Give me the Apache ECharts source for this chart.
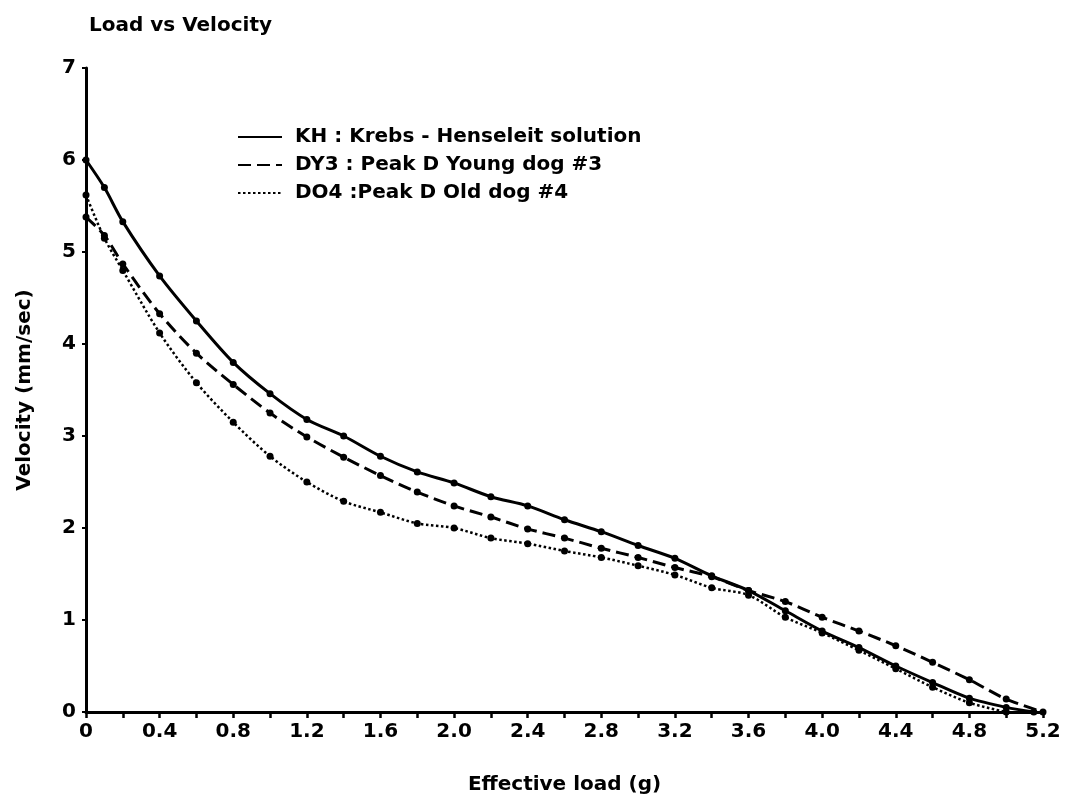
<!DOCTYPE html>
<html>
<head>
<meta charset="utf-8">
<script src="https://cdn.jsdelivr.net/npm/echarts@6/dist/echarts.min.js"></script>
<style>html,body{margin:0;padding:0;background:#fff}#c{width:1076px;height:800px}</style>
</head>
<body>
<div id="c"></div>
<script>
const titleText = 'Load vs Velocity';
const xName = 'Effective load (g)';
const yName = 'Velocity (mm/sec)';
const seriesNames = ['KH : Krebs - Henseleit solution', 'DY3 : Peak D Young dog #3', 'DO4 :Peak D Old dog #4'];

const khLoad = [0, 0.1, 0.2, 0.4, 0.6, 0.8, 1.0, 1.2, 1.4, 1.6, 1.8, 2.0, 2.2, 2.4, 2.6, 2.8, 3.0, 3.2, 3.4, 3.6, 3.8, 4.0, 4.2, 4.4, 4.6, 4.8, 5.0, 5.15];
const khVel  = [6.00, 5.70, 5.33, 4.74, 4.25, 3.80, 3.46, 3.18, 3.00, 2.78, 2.61, 2.49, 2.34, 2.24, 2.09, 1.96, 1.81, 1.67, 1.48, 1.32, 1.10, 0.88, 0.70, 0.50, 0.32, 0.15, 0.05, 0];

const dyLoad = [0, 0.1, 0.2, 0.4, 0.6, 0.8, 1.0, 1.2, 1.4, 1.6, 1.8, 2.0, 2.2, 2.4, 2.6, 2.8, 3.0, 3.2, 3.4, 3.6, 3.8, 4.0, 4.2, 4.4, 4.6, 4.8, 5.0, 5.2];
const dyVel  = [5.38, 5.18, 4.87, 4.33, 3.90, 3.56, 3.25, 2.99, 2.77, 2.57, 2.39, 2.24, 2.12, 1.99, 1.89, 1.78, 1.68, 1.57, 1.47, 1.32, 1.20, 1.03, 0.88, 0.72, 0.54, 0.35, 0.14, 0];

const doLoad = [0, 0.1, 0.2, 0.4, 0.6, 0.8, 1.0, 1.2, 1.4, 1.6, 1.8, 2.0, 2.2, 2.4, 2.6, 2.8, 3.0, 3.2, 3.4, 3.6, 3.8, 4.0, 4.2, 4.4, 4.6, 4.8, 5.0];
const doVel  = [5.62, 5.15, 4.80, 4.12, 3.58, 3.15, 2.78, 2.50, 2.29, 2.17, 2.05, 2.00, 1.89, 1.83, 1.75, 1.68, 1.59, 1.49, 1.35, 1.27, 1.03, 0.86, 0.67, 0.47, 0.27, 0.10, 0];

const xTickLabels = ['0', '0.4', '0.8', '1.2', '1.6', '2.0', '2.4', '2.8', '3.2', '3.6', '4.0', '4.4', '4.8', '5.2'];
const yTickLabels = ['0', '1', '2', '3', '4', '5', '6', '7'];

function pairs(xs, ys) { return xs.map((x, i) => [x, ys[i]]); }

const font = '"DejaVu Sans", "Liberation Sans", Arial, sans-serif';
const chart = echarts.init(document.getElementById('c'), null, {renderer: 'canvas'});

function mkSeries(name, data, type, width) {
  return {
    name: name, type: 'line', data: data, smooth: 0.3,
    symbol: 'circle', symbolSize: 7,
    itemStyle: {color: '#000'},
    lineStyle: {color: '#000', width: width, type: type},
    emphasis: {disabled: true},
    animation: false
  };
}

const txt = {fontFamily: font, fontSize: 20, fontWeight: 'bold', color: '#000'};

chart.setOption({
  animation: false,
  backgroundColor: '#fff',
  title: {
    text: titleText, left: 84, top: 11,
    textStyle: txt
  },
  legend: {
    orient: 'vertical', left: 232, top: 122, itemGap: 8,
    itemWidth: 44, itemHeight: 14,
    itemStyle: {opacity: 0},
    textStyle: Object.assign({padding: [0, 0, 0, 8]}, txt),
    data: seriesNames
  },
  grid: {left: 86, right: 33, top: 68, bottom: 85, containLabel: false},
  xAxis: {
    type: 'value', min: 0, max: 5.2, interval: 0.2,
    name: xName, nameLocation: 'middle', nameGap: 63,
    nameTextStyle: txt,
    axisLine: {lineStyle: {color: '#000', width: 3}},
    axisTick: {show: true, length: 6, lineStyle: {color: '#000', width: 2.5}},
    splitLine: {show: false},
    axisLabel: Object.assign({
      margin: 10,
      formatter: function (v) {
        const k = Math.round(v / 0.4 * 1000) / 1000;
        if (Math.abs(k - Math.round(k)) > 1e-6) return '';
        return xTickLabels[Math.round(k)] || '';
      }
    }, txt)
  },
  yAxis: {
    type: 'value', min: 0, max: 7, interval: 1,
    name: yName, nameLocation: 'middle', nameGap: 51, nameRotate: 90,
    nameTextStyle: txt,
    axisLine: {show: true, lineStyle: {color: '#000', width: 3}},
    axisTick: {show: true, length: 4, lineStyle: {color: '#000', width: 2}},
    splitLine: {show: false},
    axisLabel: Object.assign({
      margin: 10,
      formatter: function (v) { return yTickLabels[Math.round(v)]; }
    }, txt)
  },
  series: [
    mkSeries(seriesNames[0], pairs(khLoad, khVel), 'solid', 3),
    mkSeries(seriesNames[1], pairs(dyLoad, dyVel), [13, 6], 3),
    mkSeries(seriesNames[2], pairs(doLoad, doVel), [2.5, 2.5], 2.5)
  ]
});
</script>
</body>
</html>
